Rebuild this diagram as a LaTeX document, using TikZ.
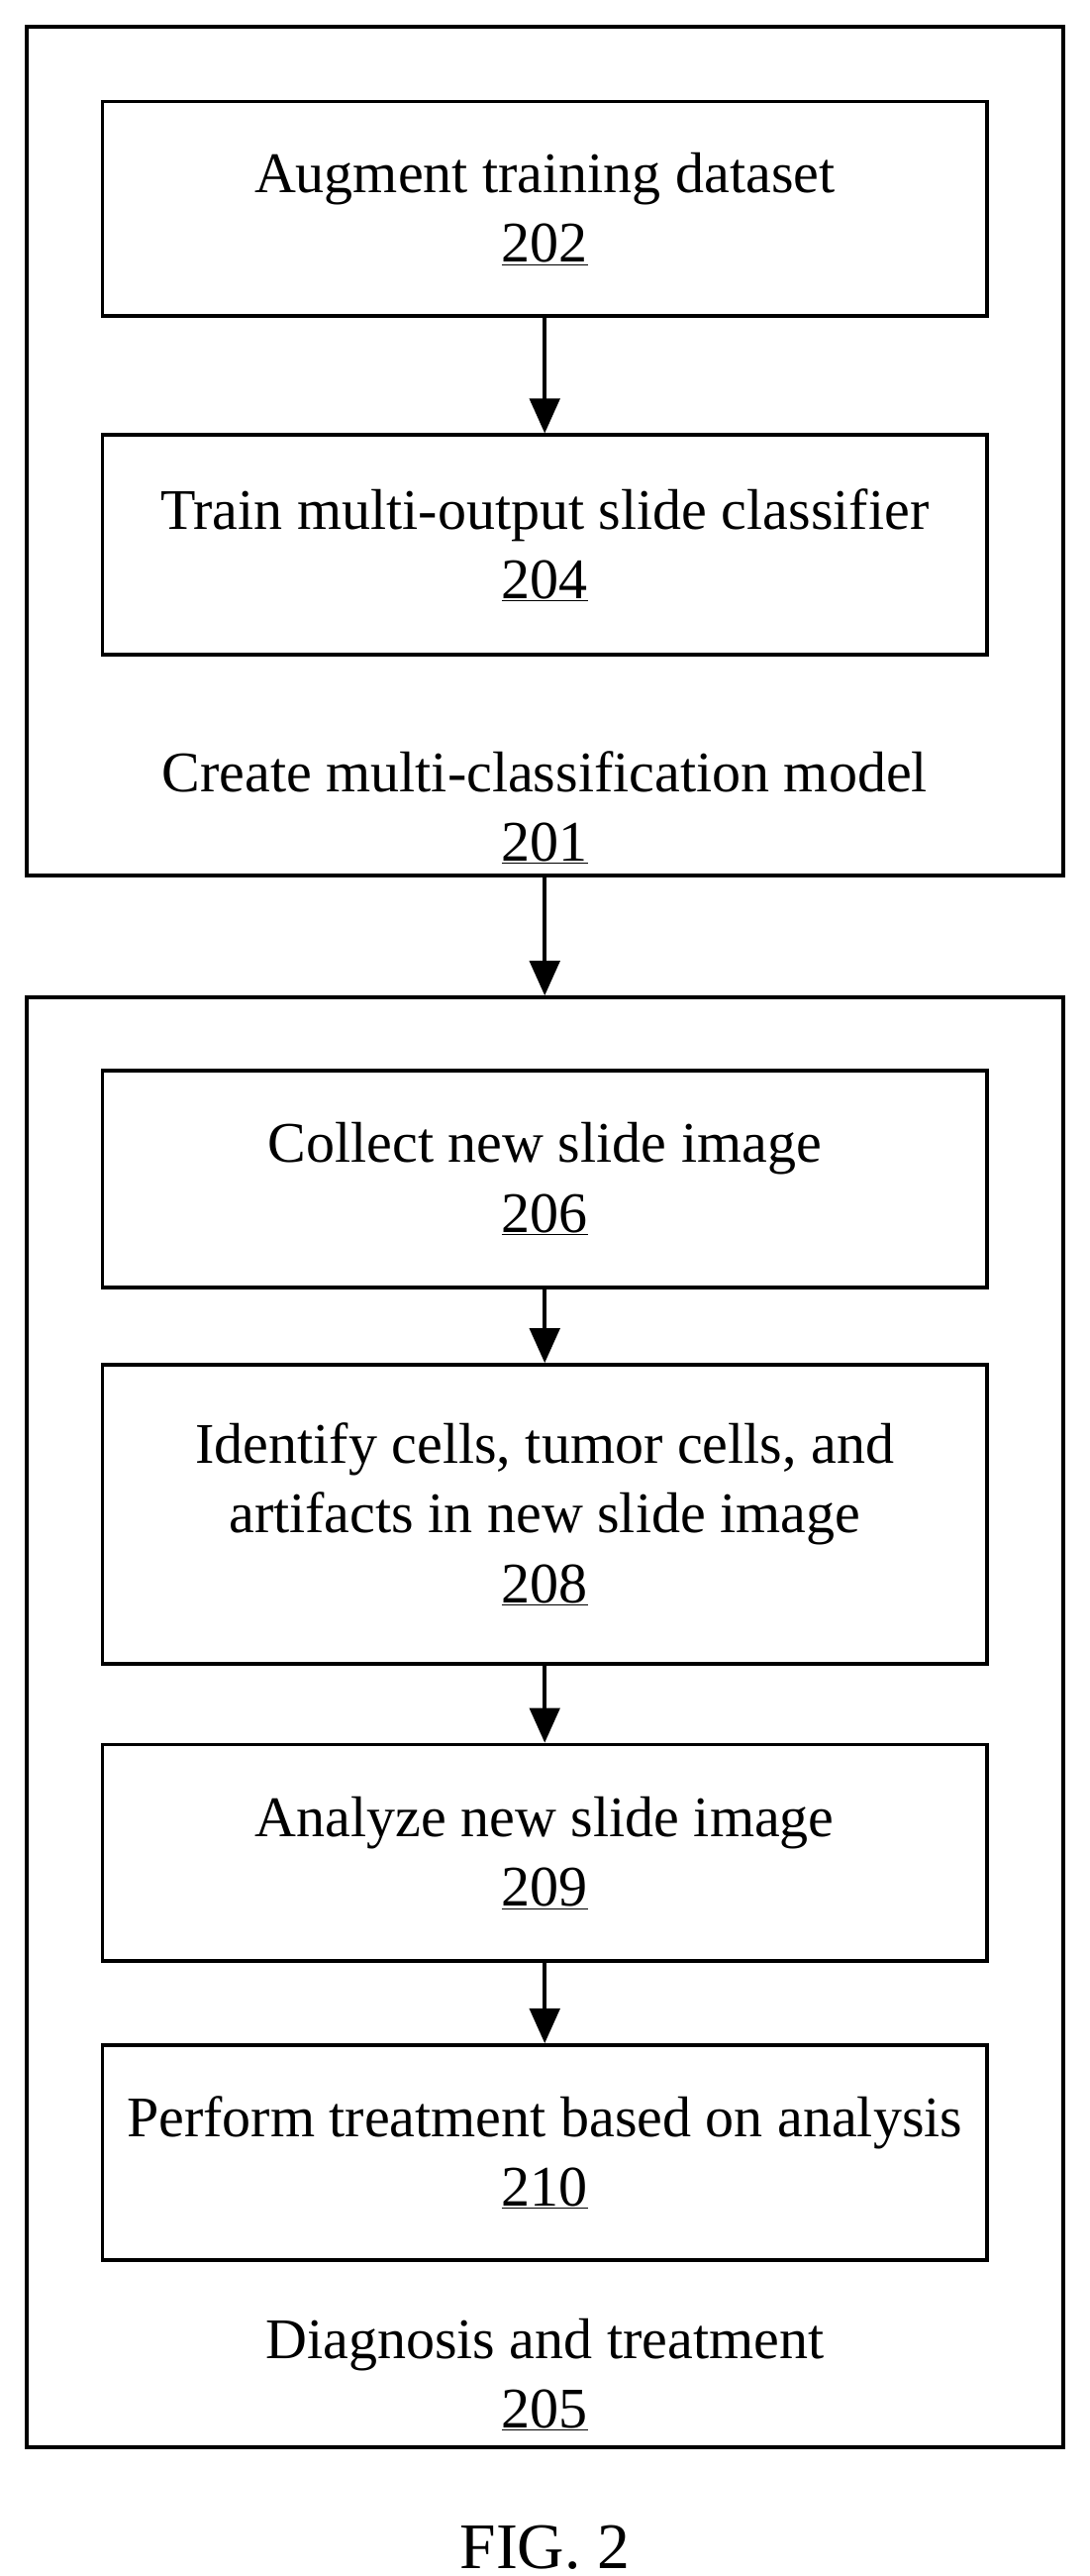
\documentclass[tikz,border=0pt]{standalone}
\usepackage{fontspec}
\setmainfont{Liberation Serif}
\usetikzlibrary{arrows.meta}
\begin{document}
\begin{tikzpicture}[x=0.05cm, y=-0.05cm]
  \tikzset{every node/.style={font=\fontsize{49.5}{60}\selectfont, align=center}}
  \tikzset{stepbox/.style={draw, line width=3.2pt, minimum width=26.8cm, inner sep=0pt}}
  \tikzset{flow/.style={-{Triangle[length=30pt,width=26pt]}, line width=3.2pt}}
  \useasboundingbox (0,0) rectangle (660,1560);
  % outer boxes
  \node[stepbox, minimum width=31.4cm, minimum height=25.7cm] (g1) at (330,273) {};
  \node[stepbox, minimum width=31.4cm, minimum height=43.9cm] (g2) at (330,1043) {};
  % steps
  \node[stepbox, minimum height=6.5cm] (s202) at (330,126.5) {Augment training dataset\\\underline{202}};
  \node[stepbox, minimum height=6.65cm] (s204) at (330,330) {Train multi-output slide classifier\\\underline{204}};
  \node (l201) at (330,489) {Create multi-classification model\\\underline{201}};
  \node[stepbox, minimum height=6.55cm] (s206) at (330,714) {Collect new slide image\\\underline{206}};
  \node[stepbox, minimum height=9.05cm] (s208) at (330,917) {Identify cells, tumor cells, and\\artifacts in new slide image\\\underline{208}};
  \node[stepbox, minimum height=6.55cm] (s209) at (330,1122) {Analyze new slide image\\\underline{209}};
  \node[stepbox, minimum height=6.5cm] (s210) at (330,1303.5) {Perform treatment based on analysis\\\underline{210}};
  \node (l205) at (330,1438) {Diagnosis and treatment\\\underline{205}};
  \node[font=\fontsize{56}{64}\selectfont] (fig) at (330,1543) {FIG. 2};
  % arrows
  \draw[flow] (s202) -- (s204);
  \draw[flow] (g1) -- (g2);
  \draw[flow] (s206) -- (s208);
  \draw[flow] (s208) -- (s209);
  \draw[flow] (s209) -- (s210);
\end{tikzpicture}
\end{document}
